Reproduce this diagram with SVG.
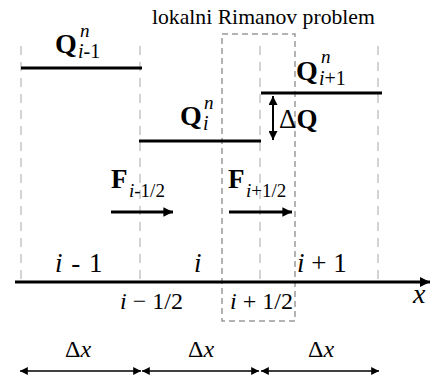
<svg xmlns="http://www.w3.org/2000/svg" width="430" height="376" viewBox="0 0 430 376">
<defs>
<style>
text{font-family:"Liberation Serif","Times New Roman",serif;fill:#000}
.b{font-weight:bold}
.it{font-style:italic}
.grid{stroke:#d4d4d4;stroke-width:2;stroke-dasharray:9 7;fill:none}
.box{stroke:#9a9a9a;stroke-width:1.5;stroke-dasharray:6 4;fill:none}
.lvl{stroke:#000;stroke-width:3}
.flux{stroke:#000;stroke-width:3;marker-end:url(#ah)}
.dim{stroke:#000;stroke-width:1.3;marker-start:url(#sh);marker-end:url(#sh)}
</style>
<marker id="ah" viewBox="0 0 10 10" refX="10" refY="5" markerWidth="3.2" markerHeight="3.2" orient="auto-start-reverse" markerUnits="strokeWidth"><path d="M0,0 L10,5 L0,10 z" fill="#000"/></marker>
<marker id="sh" viewBox="0 0 10 10" refX="10" refY="5" markerWidth="7" markerHeight="6" orient="auto-start-reverse" markerUnits="strokeWidth"><path d="M0,0 L10,5 L0,10 z" fill="#000"/></marker>
<marker id="dq" viewBox="0 0 10 10" refX="10" refY="5" markerWidth="5" markerHeight="4.5" orient="auto-start-reverse" markerUnits="strokeWidth"><path d="M0,0 L10,5 L0,10 z" fill="#000"/></marker>
<marker id="ax" viewBox="0 0 10 10" refX="10" refY="5" markerWidth="3.4" markerHeight="5" orient="auto" markerUnits="strokeWidth"><path d="M0,0 L10,5 L0,10 z" fill="#000"/></marker>
</defs>
<g id="grid">
<line class="grid" x1="21" y1="46" x2="21" y2="282"/>
<line class="grid" x1="140" y1="46" x2="140" y2="282"/>
<line class="grid" x1="260" y1="46" x2="260" y2="282"/>
<line class="grid" x1="378" y1="46" x2="378" y2="282"/>
</g>
<g id="riemann-box">
<rect class="box" x="222" y="34" width="73" height="287"/>
<text x="152" y="24" font-size="21.7">lokalni Rimanov problem</text>
</g>
<g id="cell-i-1">
<line class="lvl" x1="21" y1="68" x2="142" y2="68"/>
<text x="55" y="53"><tspan class="b" font-size="28">Q</tspan><tspan class="it" font-size="19" x="80" y="37">n</tspan><tspan class="it" font-size="20" x="78" y="58">i</tspan><tspan font-size="20">-1</tspan></text>
</g>
<g id="cell-i">
<line class="lvl" x1="139" y1="141" x2="261" y2="141"/>
<text x="180" y="125"><tspan class="b" font-size="28">Q</tspan><tspan class="it" font-size="19" x="204" y="109">n</tspan><tspan class="it" font-size="20" x="203" y="130">i</tspan></text>
</g>
<g id="cell-i+1">
<line class="lvl" x1="261" y1="93" x2="382" y2="93"/>
<text x="296" y="80"><tspan class="b" font-size="28">Q</tspan><tspan class="it" font-size="19" x="321" y="63">n</tspan><tspan class="it" font-size="20" x="319" y="85">i</tspan><tspan font-size="20">+1</tspan></text>
</g>
<g id="jump">
<text x="279" y="128" font-size="27">Δ<tspan class="b">Q</tspan></text>
</g>
<g id="flux-left">
<text x="111" y="188"><tspan class="b" font-size="27">F</tspan><tspan class="it" font-size="19" x="129" y="197">i</tspan><tspan font-size="19">-1/2</tspan></text>
</g>
<g id="flux-right">
<text x="228" y="188"><tspan class="b" font-size="27">F</tspan><tspan class="it" font-size="19" x="246" y="197">i</tspan><tspan font-size="19">+1/2</tspan></text>
</g>
<g id="connectors">
<line class="flux" x1="111" y1="212" x2="173" y2="212"/>
<line class="flux" x1="229" y1="212" x2="292" y2="212"/>
<line x1="273" y1="96" x2="273" y2="140" stroke="#000" stroke-width="2" marker-start="url(#dq)" marker-end="url(#dq)"/>
<line x1="15" y1="282" x2="430" y2="282" stroke="#000" stroke-width="3" marker-end="url(#ax)"/>
<line class="dim" x1="20" y1="371" x2="141" y2="371"/>
<line class="dim" x1="142" y1="371" x2="259" y2="371" stroke="#444"/>
<line class="dim" x1="261" y1="371" x2="379" y2="371"/>
</g>
<g id="axis-labels">
<text x="55" y="272" font-size="27" word-spacing="2"><tspan class="it">i</tspan> - 1</text>
<text x="194" y="272" font-size="27" class="it">i</text>
<text x="297" y="272" font-size="27"><tspan class="it">i</tspan> + 1</text>
<text x="120" y="309" font-size="24"><tspan class="it">i</tspan> − 1/2</text>
<text x="230" y="309" font-size="24"><tspan class="it">i</tspan> + 1/2</text>
<text x="413" y="303" font-size="28" class="it">x</text>
<text x="65" y="357" font-size="24">Δ<tspan class="it">x</tspan></text>
<text x="188" y="357" font-size="24">Δ<tspan class="it">x</tspan></text>
<text x="308" y="357" font-size="24">Δ<tspan class="it">x</tspan></text>
</g>
</svg>
